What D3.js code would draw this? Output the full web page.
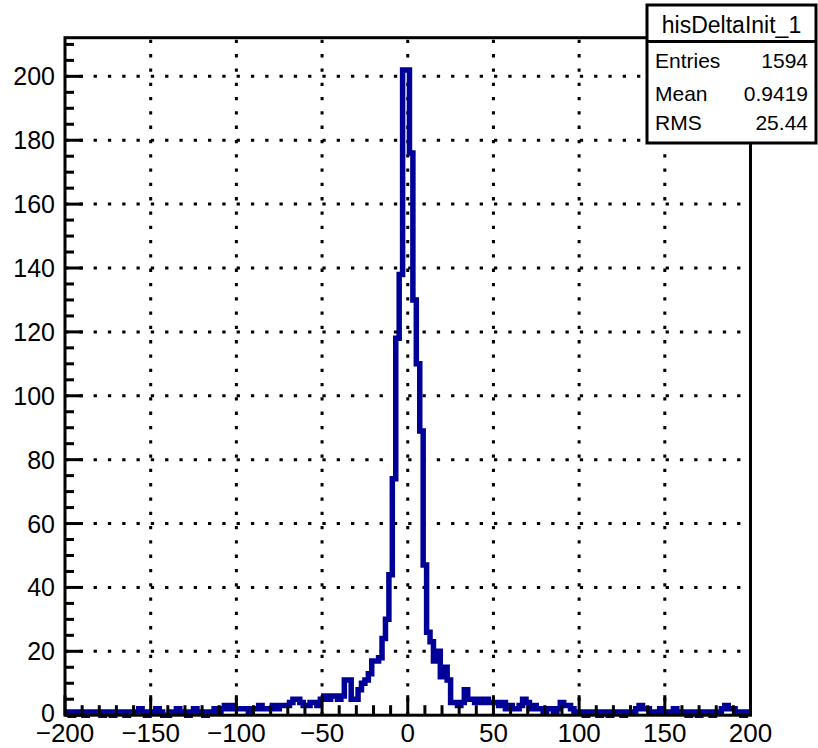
<!DOCTYPE html>
<html><head><meta charset="utf-8">
<script src="https://cdn.jsdelivr.net/npm/d3@7"></script>
<style>
body{margin:0;background:#fff}
svg{display:block}
text{font-family:"Liberation Sans",Arial,Helvetica,sans-serif;fill:#000}
</style>
</head><body>
<svg id="c" width="818" height="748"></svg>
<script>
// ---- data: bin counts, bins of width 2 centred on -200, -198, ..., 200 ----
const binStart = -200;   // centre of first bin
const binWidth = 2;
const counts = [
  // -200 .. -162
  1,1,0,1,1,1,0,1,1,1,1,0,1,1,0,1,1,1,0,1,
  // -160 .. -122
  1,1,2,1,0,1,1,2,1,0,0,1,1,2,1,1,0,1,2,1,
  // -120 .. -82
  1,0,1,1,2,1,2,3,2,3,2,2,2,2,1,2,2,3,2,2,
  // -80 .. -42
  2,3,2,3,3,3,4,5,5,4,3,3,4,4,3,5,6,5,6,6,
  // -40 .. -2
  5,6,11,11,5,5,8,10,11,13,17,17,18,24,30,44,74,118,138,202,
  // 0 .. 38
  202,176,130,110,89,47,26,23,17,20,12,15,11,4,4,3,4,8,5,5,
  // 40 .. 78
  4,5,4,5,4,4,4,3,4,2,3,2,2,3,5,4,2,3,2,2,
  // 80 .. 118
  1,2,2,1,2,4,3,3,2,1,1,1,0,1,1,1,0,1,1,0,
  // 120 .. 158
  1,1,1,0,1,1,1,2,3,2,2,1,1,1,2,1,1,1,2,1,
  // 160 .. 200
  1,1,0,1,1,0,1,1,1,0,1,1,2,3,2,2,1,1,0,1,1
];
const xTickValues = [-200,-150,-100,-50,0,50,100,150,200];
const yTickValues = [0,20,40,60,80,100,120,140,160,180,200];
const xDomain = [-200, 200];
const yDomain = [0, 212.1];
const statsTitle = "hisDeltaInit_1";
const statsLabels = ["Entries","Mean","RMS"];
const statsValues = ["1594","0.9419","25.44"];

// ---- layout ----
const L = 65, R = 750.5, T = 37.7, B = 715.2;
const svg = d3.select("#c");
const x = d3.scaleLinear().domain(xDomain).range([L, R]);
const y = d3.scaleLinear().domain(yDomain).range([B, T]);
const fmt = d3.format("");

// grid
const gGrid = svg.append("g").attr("stroke","#000").attr("stroke-width",3)
  .attr("stroke-dasharray","3.3,11").attr("fill","none");
xTickValues.filter(v => v > xDomain[0] && v < xDomain[1]).forEach(v => {
  gGrid.append("line").attr("x1",x(v)).attr("x2",x(v)).attr("y1",B).attr("y2",T);
});
yTickValues.filter(v => v > 0).forEach(v => {
  gGrid.append("line").attr("x1",L).attr("x2",R).attr("y1",y(v)).attr("y2",y(v));
});

// histogram
svg.append("clipPath").attr("id","clp").append("rect")
  .attr("x",L).attr("y",T).attr("width",R-L).attr("height",B-T+4);
const pts = counts.map((v,i) => [binStart + i*binWidth - binWidth/2, v]);
pts.push([binStart + counts.length*binWidth - binWidth/2, counts[counts.length-1]]);
const line = d3.line().x(d => x(d[0])).y(d => y(d[1])).curve(d3.curveStepAfter);
svg.append("path").attr("d", line(pts)).attr("clip-path","url(#clp)")
  .attr("fill","none").attr("stroke","#000099").attr("stroke-width",5.5)
  .attr("stroke-linejoin","miter");

// axes ticks (inward)
const gAx = svg.append("g").attr("stroke","#000").attr("stroke-width",3);
d3.range(-200, 201, 10).forEach(v => {
  const major = v % 50 === 0;
  gAx.append("line").attr("x1",x(v)).attr("x2",x(v)).attr("y1",B).attr("y2",B-(major?20:10));
});
d3.range(0, 212, 5).forEach(v => {
  const major = v % 20 === 0;
  gAx.append("line").attr("x1",L).attr("x2",L+(major?18:9)).attr("y1",y(v)).attr("y2",y(v));
});
// frame
svg.append("rect").attr("x",L).attr("y",T).attr("width",R-L).attr("height",B-T)
  .attr("fill","none").attr("stroke","#000").attr("stroke-width",3);

// tick labels
svg.append("g").selectAll("text").data(xTickValues).join("text")
  .attr("x", d => x(d)).attr("y", 742).attr("text-anchor","middle")
  .attr("font-size",26).text(d => fmt(d));
svg.append("g").selectAll("text").data(yTickValues).join("text")
  .attr("x", 55).attr("y", d => y(d) + (d === 0 ? 7 : 9)).attr("text-anchor","end")
  .attr("font-size",25).text(d => fmt(d));

// stats box
const sx = 647, sy = 5, sw = 169, sh = 138, sep = 41.5;
const gS = svg.append("g");
gS.append("rect").attr("x",sx).attr("y",sy).attr("width",sw).attr("height",sh)
  .attr("fill","#fff").attr("stroke","#000").attr("stroke-width",3);
gS.append("line").attr("x1",sx).attr("x2",sx+sw).attr("y1",sep).attr("y2",sep)
  .attr("stroke","#000").attr("stroke-width",3);
gS.append("text").attr("x",sx+sw/2).attr("y",33).attr("text-anchor","middle")
  .attr("font-size",23).text(statsTitle);
const rowY = [68, 101, 130];
statsLabels.forEach((lab,i) => {
  gS.append("text").attr("x",655).attr("y",rowY[i]).attr("font-size",21).text(lab);
  gS.append("text").attr("x",808).attr("y",rowY[i]).attr("text-anchor","end")
    .attr("font-size",21).text(statsValues[i]);
});
</script>
</body></html>
